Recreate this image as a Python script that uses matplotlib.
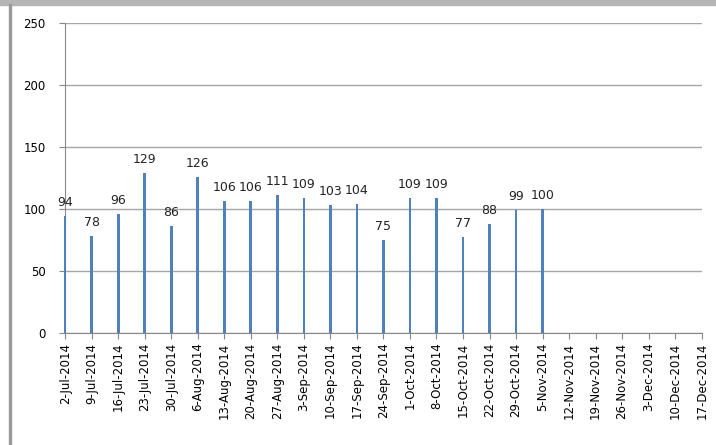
import numpy as np
import pandas as pd
import matplotlib
matplotlib.use("Agg")
import matplotlib.pyplot as plt
import matplotlib.dates as mdates
from matplotlib.patches import Rectangle

# weekly values (weeks after 5-Nov have no data)
weeks = pd.date_range("2014-07-02", "2014-11-05", freq="7D")
values = [94, 78, 96, 129, 86, 126, 106, 106, 111, 109, 103, 104, 75,
          109, 109, 77, 88, 99, 100]
tick_dates = pd.date_range("2014-07-02", "2014-12-17", freq="7D")
tick_labels = [f"{d.day}-{d.strftime('%b')}-{d.year}" for d in tick_dates]

fig = plt.figure(figsize=(7.16, 4.45), dpi=100)
ax = fig.add_axes([0.091, 0.252, 0.889, 0.697])

x = mdates.date2num(weeks)
bars = ax.bar(x, values, width=0.7, color="#4F81BD", zorder=3)
for b in bars:
    b.set_clip_on(False)
for xi, v in zip(x, values):
    ax.annotate(str(v), (xi, v), xytext=(0, 5), textcoords="offset points",
                ha="center", va="bottom", fontsize=9, color="#222222")

ax.set_xlim(mdates.date2num(tick_dates[0]), mdates.date2num(tick_dates[-1]))
ax.set_ylim(0, 250)
ax.set_yticks(range(0, 251, 50))
ax.set_xticks(mdates.date2num(tick_dates))
ax.set_xticklabels(tick_labels, rotation=90, fontsize=8.5)
ax.tick_params(axis="y", labelsize=8.5, length=4, color="#888888", pad=10)
ax.tick_params(axis="x", length=4, color="#888888", pad=3)
ax.grid(axis="y", color="#a6a6a6", linewidth=1, zorder=0)
for s in ["top", "right"]:
    ax.spines[s].set_visible(False)
for s in ["left", "bottom"]:
    ax.spines[s].set_color("#888888")

# chart border
fig.patches.append(Rectangle((0, 0.988), 1, 0.012, transform=fig.transFigure,
                             color="#b5b5b5", zorder=0))
fig.patches.append(Rectangle((0.013, 0.0), 0.0025, 0.99, transform=fig.transFigure,
                             color="#9a9a9a", zorder=0))

fig.savefig("out.png", dpi=100)
